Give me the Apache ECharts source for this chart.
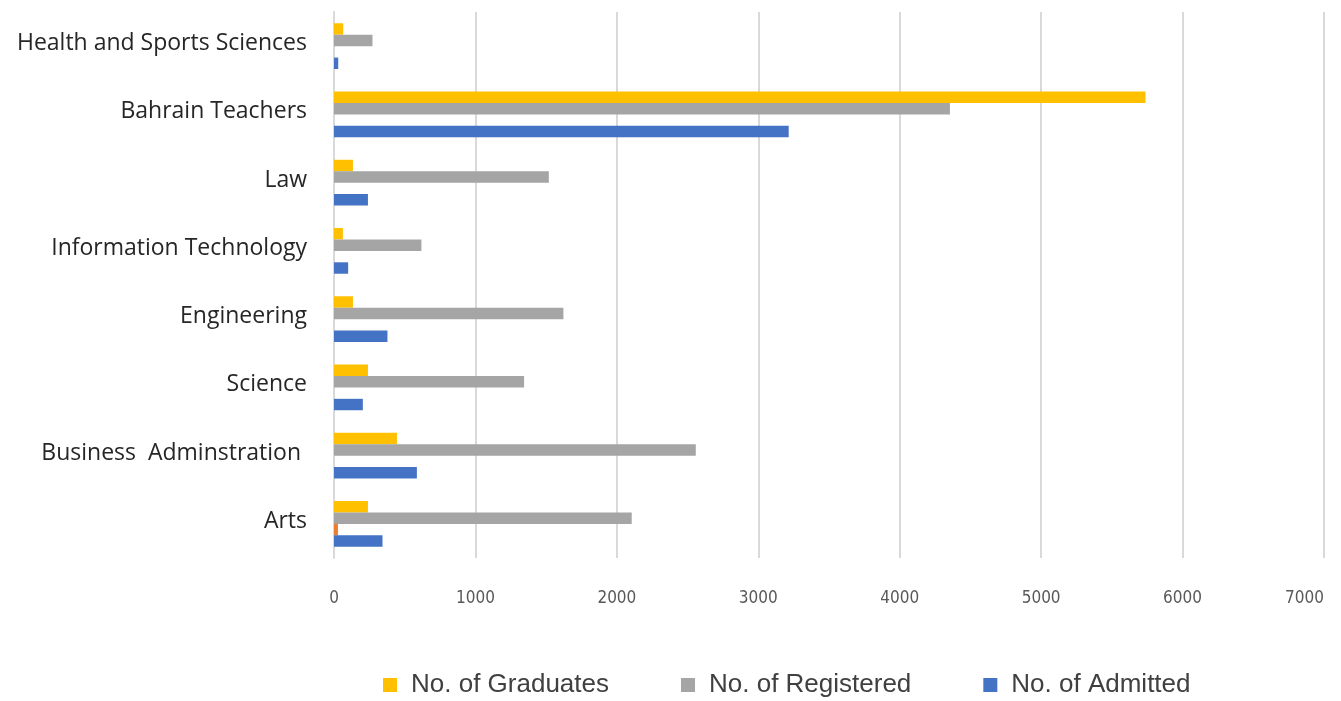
<!DOCTYPE html>
<html>
<head>
<meta charset="utf-8">
<title>Colleges</title>
<script src="https://cdn.jsdelivr.net/npm/echarts@6/dist/echarts.min.js"></script>
<style>
  html, body { margin: 0; padding: 0; background: #fff; }
  #chart { width: 1341px; height: 701px; }
</style>
</head>
<body>
<div id="chart"></div>
<script>
// bottom to top, as the value axis reads them
const colleges = [
  'Arts',
  'Business  Adminstration ',
  'Science',
  'Engineering',
  'Information Technology',
  'Law',
  'Bahrain Teachers',
  'Health and Sports Sciences',
]
const graduates = [240, 445, 240, 134, 63, 134, 5738, 65]
const registered = [2105, 2558, 1344, 1622, 618, 1519, 4355, 272]
const unnamed = [28, 0, 0, 0, 0, 0, 0, 0]
const admitted = [343, 586, 204, 378, 100, 240, 3215, 30]
const xTicks = [0, 1000, 2000, 3000, 4000, 5000, 6000, 7000]

const colors = {
  graduates: '#FFC000',
  registered: '#A5A5A5',
  unnamed: '#ED7D31',
  admitted: '#4472C4',
}

const chart = echarts.init(document.getElementById('chart'))

const bar = (name, data, color) => ({
  name,
  type: 'bar',
  data,
  barGap: '0%',
  barCategoryGap: '33%',
  itemStyle: { color },
  emphasis: { disabled: true },
})

chart.setOption({
  animation: false,
  grid: {
    left: 334,
    right: 17,
    top: 12,
    bottom: 143,
  },
  legend: {
    data: ['No. of Graduates', 'No. of Registered', 'No. of Admitted'],
    top: 667,
    left: 378,
    itemWidth: 14,
    itemHeight: 14,
    itemGap: 72,
    icon: 'rect',
    textStyle: {
      fontFamily: 'Liberation Sans',
      fontSize: 26,
      color: '#404040',
      padding: [0, 0, 0, 9],
    },
  },
  xAxis: {
    type: 'value',
    min: xTicks[0],
    max: xTicks[xTicks.length - 1],
    interval: 1000,
    axisLine: { show: false },
    axisTick: { show: false },
    axisLabel: {
      fontFamily: 'DejaVu Sans Condensed',
      fontSize: 17,
      color: '#595959',
      margin: 32,
      alignMaxLabel: 'right',
      formatter: (v) => String(v),
    },
    splitLine: {
      lineStyle: { color: '#D9D9D9', width: 2 },
    },
  },
  yAxis: {
    type: 'category',
    data: colleges,
    axisLine: {
      lineStyle: { color: '#D9D9D9', width: 2 },
    },
    axisTick: { show: false },
    axisLabel: {
      fontFamily: 'Open Sans',
      fontSize: 23,
      color: '#262626',
      margin: 27,
      verticalAlign: 'bottom',
      lineHeight: 5,
    },
  },
  series: [
    bar('No. of Graduates', graduates, colors.graduates),
    bar('No. of Registered', registered, colors.registered),
    bar('Series 4', unnamed, colors.unnamed),
    bar('No. of Admitted', admitted, colors.admitted),
  ],
})
</script>
</body>
</html>
